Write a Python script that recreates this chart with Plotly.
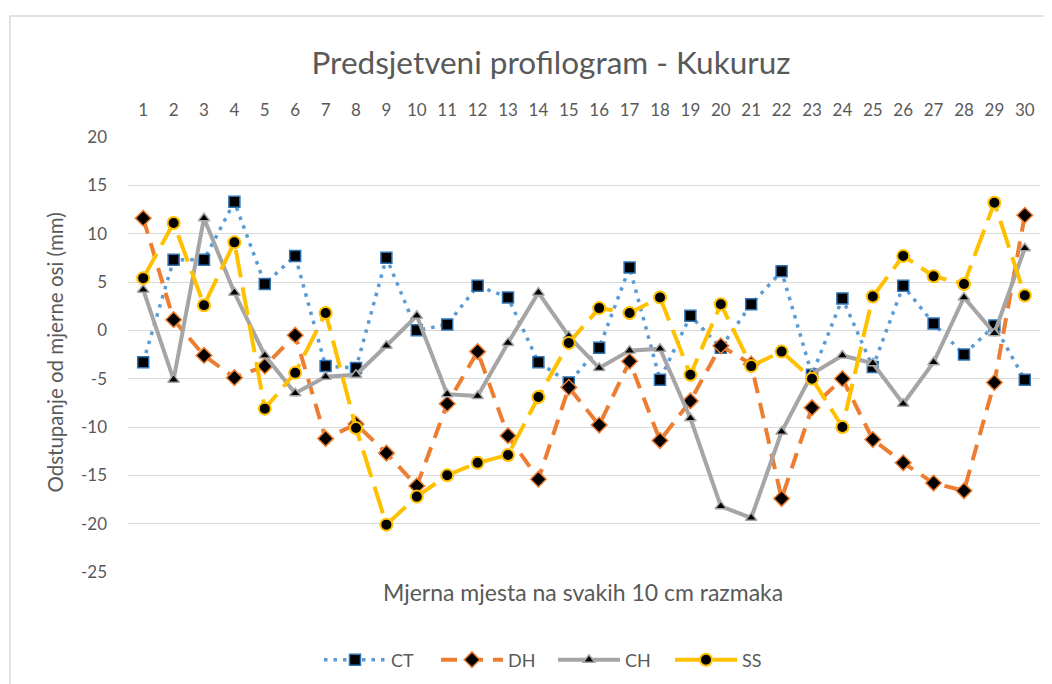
import plotly.graph_objects as go

positions = list(range(1, 31))

ct = [-3.3, 7.3, 7.3, 13.3, 4.8, 7.7, -3.7, -3.9, 7.5, 0.0,
      0.6, 4.6, 3.4, -3.3, -5.4, -1.8, 6.5, -5.1, 1.5, -1.8,
      2.7, 6.1, -4.6, 3.3, -3.8, 4.6, 0.7, -2.5, 0.5, -5.1]
dh = [11.6, 1.1, -2.6, -4.9, -3.7, -0.5, -11.2, -9.7, -12.7, -16.1,
      -7.6, -2.2, -10.9, -15.4, -5.9, -9.8, -3.2, -11.4, -7.3, -1.6,
      -3.5, -17.4, -8.0, -5.0, -11.3, -13.7, -15.8, -16.6, -5.4, 11.9]
ch = [4.2, -5.1, 11.6, 3.9, -2.6, -6.5, -4.8, -4.6, -1.6, 1.5,
      -6.6, -6.8, -1.3, 3.9, -0.6, -3.9, -2.1, -1.9, -9.1, -18.2,
      -19.4, -10.5, -4.5, -2.6, -3.4, -7.6, -3.3, 3.4, -0.3, 8.5]
ss = [5.4, 11.1, 2.6, 9.1, -8.1, -4.4, 1.8, -10.1, -20.1, -17.2,
      -15.0, -13.7, -12.9, -6.9, -1.3, 2.3, 1.8, 3.4, -4.6, 2.7,
      -3.7, -2.2, -5.0, -10.0, 3.5, 7.7, 5.6, 4.8, 13.2, 3.6]

y_ticks = [-25, -20, -15, -10, -5, 0, 5, 10, 15, 20]
y_labels = ["-25", "-20", "-15", "-10", "-5", "0", "5", "10", "15", "20"]

txt = "#595959"
font = "Lato, 'Open Sans', sans-serif"

fig = go.Figure()

fig.add_trace(go.Scatter(
    x=positions, y=ct, name="CT", mode="lines+markers",
    line=dict(color="#5B9BD5", width=3.5, dash="3.5px,6px"),
    marker=dict(symbol="square", size=11, color="black", line=dict(color="#2E75B6", width=1.5))))
fig.add_trace(go.Scatter(
    x=positions, y=dh, name="DH", mode="lines+markers",
    line=dict(color="#ED7D31", width=4, dash="16px,10px"),
    marker=dict(symbol="diamond", size=12, color="black", line=dict(color="#ED7D31", width=1.5))))
fig.add_trace(go.Scatter(
    x=positions, y=ch, name="CH", mode="lines+markers",
    line=dict(color="#A5A5A5", width=4),
    marker=dict(symbol="triangle-up", size=10, color="black", line=dict(color="#A5A5A5", width=1.5))))
fig.add_trace(go.Scatter(
    x=positions, y=ss, name="SS", mode="lines+markers",
    line=dict(color="#FFC000", width=4, dash="28px,10px"),
    marker=dict(symbol="circle", size=12, color="black", line=dict(color="#FFC000", width=2))))

fig.update_layout(
    width=1044, height=676,
    margin=dict(l=120, r=12, t=129, b=112, autoexpand=False),
    paper_bgcolor="white", plot_bgcolor="white",
    font=dict(family=font, color=txt, size=17),
    title=dict(text="Predsjetveni profilogram - Kukuruz", xref="container", x=0.5201,
               xanchor="center", yref="container", y=0.9194, yanchor="middle",
               font=dict(size=31.5, color=txt)),
    showlegend=True,
    legend=dict(orientation="h", x=0.466, xanchor="center", y=-0.2023, yanchor="middle",
                font=dict(size=18, color=txt), itemwidth=62, entrywidth=40),
)

fig.update_xaxes(side="top", range=[0.5, 30.5], tickvals=positions, showgrid=False,
                 showline=False, zeroline=False, ticks="", ticklabelstandoff=17,
                 tickfont=dict(size=17, color=txt))
fig.update_yaxes(range=[-25, 20], tickvals=y_ticks, ticktext=y_labels, showgrid=True,
                 gridcolor="#D9D9D9", gridwidth=1.3, zeroline=False, showline=False,
                 ticks="", ticklabelstandoff=20, tickfont=dict(size=17, color=txt))

# axis titles (x title sits below the plot although the labels are on top)
fig.add_annotation(text="Odstupanje od mjerne osi (mm)", xref="paper", yref="paper",
                   x=-0.080, y=0.5046, xanchor="center", yanchor="middle", textangle=-90,
                   showarrow=False, font=dict(size=20.5, color=txt))
fig.add_annotation(text="Mjerna mjesta na svakih 10 cm razmaka", xref="paper", yref="paper",
                   x=0.4989, y=-0.046, xanchor="center", yanchor="middle", showarrow=False,
                   font=dict(size=23, color=txt))

# chart frame
fig.add_shape(type="rect", xref="paper", yref="paper", x0=-0.1294, x1=1.1, y0=-0.5, y1=1.278,
              line=dict(color="#D9D9D9", width=1.5), layer="below")

fig.write_html("out.html")
